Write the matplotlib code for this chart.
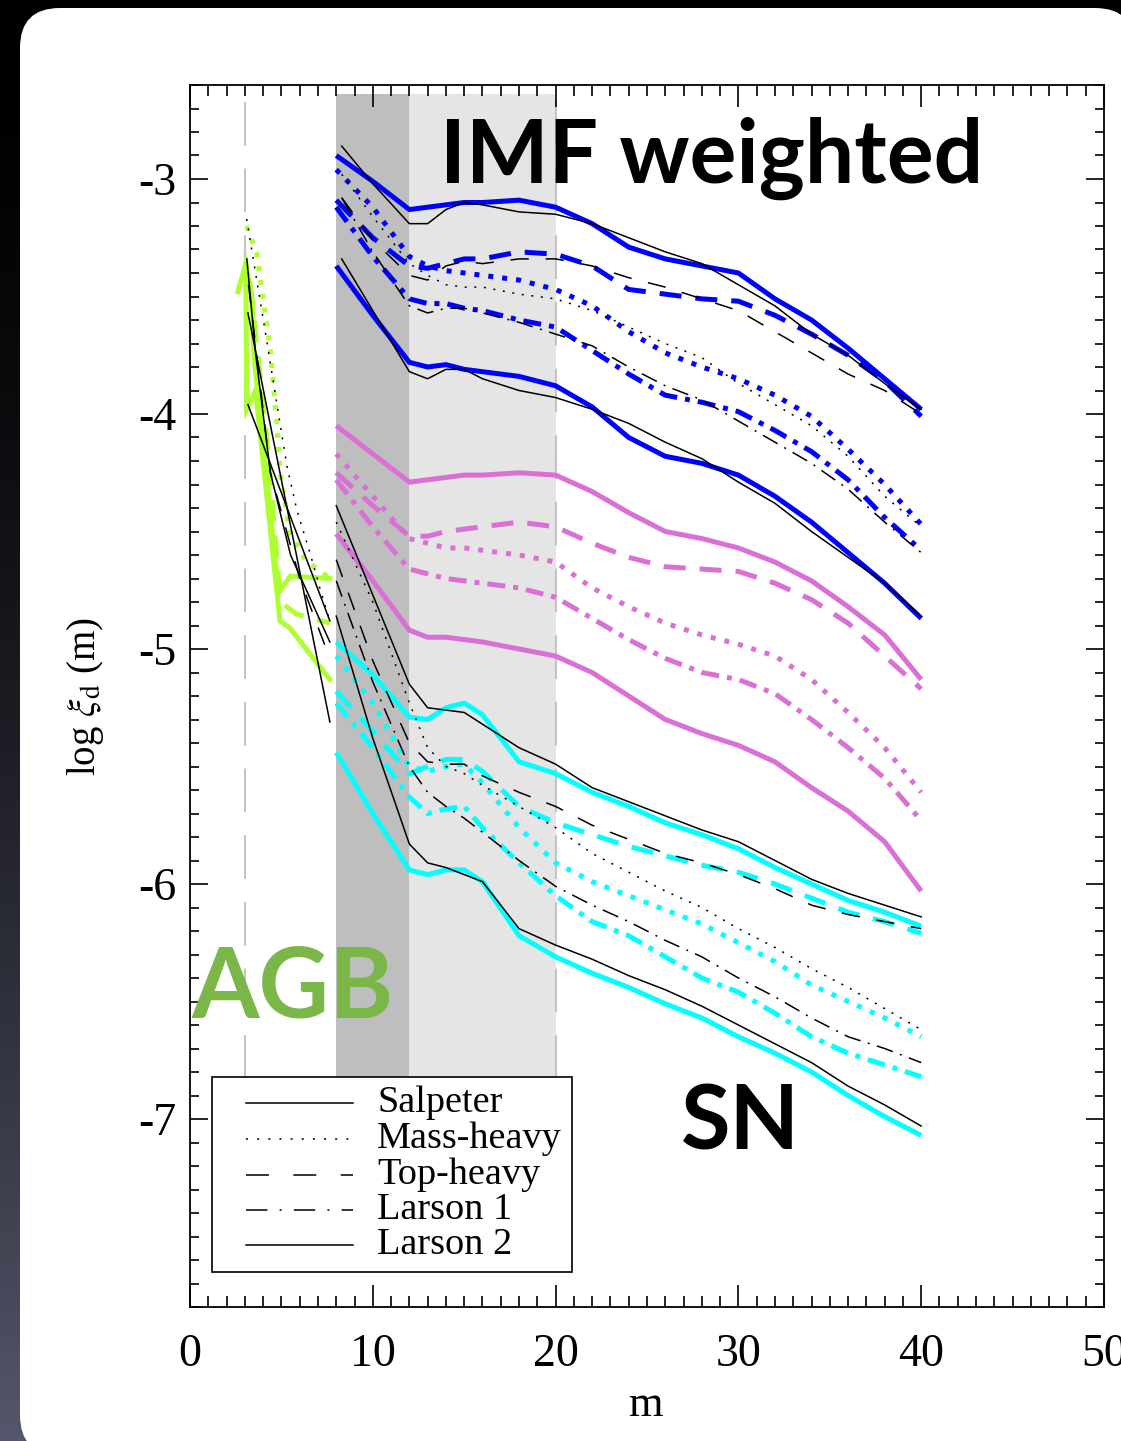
import numpy as np
import matplotlib
matplotlib.use("Agg")
import matplotlib.pyplot as plt
from matplotlib.patches import FancyBboxPatch, Rectangle

plt.rcParams['font.family'] = ['Liberation Serif', 'DejaVu Serif']
plt.rcParams['mathtext.fontset'] = 'stix'
plt.rcParams['axes.unicode_minus'] = False

# ---------------- data ----------------
X = [8, 10, 12, 13, 14, 15, 16, 18, 20, 22, 24, 26, 28, 30, 32, 34, 36, 38, 40]
XK = [8.3, 10, 12, 13, 14, 15, 16, 18, 20, 22, 24, 26, 28, 30, 32, 34, 36, 38, 40]

blue_salpeter = [-2.90, -3.01, -3.13, -3.12, -3.11, -3.10, -3.10, -3.09, -3.12, -3.19, -3.29, -3.34, -3.37, -3.40, -3.51, -3.60, -3.72, -3.85, -3.98]
blue_massheavy = [-2.96, -3.12, -3.33, -3.37, -3.39, -3.40, -3.41, -3.43, -3.47, -3.54, -3.65, -3.74, -3.80, -3.85, -3.92, -4.01, -4.15, -4.30, -4.47]
blue_topheavy = [-3.09, -3.25, -3.37, -3.38, -3.36, -3.34, -3.34, -3.31, -3.32, -3.37, -3.47, -3.49, -3.51, -3.52, -3.58, -3.66, -3.75, -3.86, -4.01]
blue_larson1 = [-3.12, -3.33, -3.51, -3.53, -3.53, -3.55, -3.56, -3.60, -3.63, -3.73, -3.83, -3.92, -3.95, -3.99, -4.07, -4.16, -4.28, -4.44, -4.58]
blue_larson2 = [-3.37, -3.58, -3.78, -3.80, -3.79, -3.81, -3.82, -3.84, -3.88, -3.97, -4.10, -4.18, -4.21, -4.26, -4.35, -4.46, -4.59, -4.72, -4.87]

kblue_salpeter = [-2.86, -3.02, -3.19, -3.19, -3.13, -3.10, -3.11, -3.14, -3.15, -3.19, -3.25, -3.31, -3.36, -3.45, -3.54, -3.66, -3.75, -3.87, -3.98]
kblue_massheavy = [-2.98, -3.16, -3.36, -3.41, -3.45, -3.46, -3.46, -3.49, -3.51, -3.56, -3.63, -3.70, -3.76, -3.87, -3.96, -4.05, -4.18, -4.35, -4.48]
kblue_topheavy = [-3.08, -3.26, -3.41, -3.43, -3.37, -3.35, -3.36, -3.34, -3.34, -3.37, -3.42, -3.46, -3.51, -3.56, -3.65, -3.74, -3.83, -3.90, -4.00]
kblue_larson1 = [-3.08, -3.31, -3.54, -3.57, -3.55, -3.55, -3.57, -3.61, -3.66, -3.71, -3.80, -3.88, -3.94, -4.03, -4.12, -4.21, -4.32, -4.46, -4.59]
kblue_larson2 = [-3.34, -3.56, -3.82, -3.85, -3.81, -3.81, -3.85, -3.90, -3.93, -3.98, -4.04, -4.12, -4.19, -4.29, -4.38, -4.50, -4.61, -4.72, -4.86]

violet_salpeter = [-4.05, -4.17, -4.29, -4.28, -4.27, -4.26, -4.26, -4.25, -4.26, -4.33, -4.42, -4.50, -4.53, -4.57, -4.63, -4.71, -4.82, -4.94, -5.13]
violet_massheavy = [-4.17, -4.35, -4.53, -4.55, -4.57, -4.57, -4.58, -4.60, -4.63, -4.74, -4.82, -4.89, -4.94, -4.98, -5.03, -5.13, -5.27, -5.42, -5.61]
violet_topheavy = [-4.25, -4.39, -4.52, -4.52, -4.50, -4.49, -4.48, -4.46, -4.48, -4.55, -4.61, -4.65, -4.66, -4.67, -4.72, -4.79, -4.89, -5.03, -5.17]
violet_larson1 = [-4.28, -4.48, -4.66, -4.68, -4.70, -4.71, -4.72, -4.74, -4.78, -4.87, -4.96, -5.04, -5.10, -5.13, -5.19, -5.30, -5.42, -5.55, -5.73]
violet_larson2 = [-4.51, -4.71, -4.92, -4.95, -4.95, -4.96, -4.97, -5.00, -5.03, -5.10, -5.20, -5.30, -5.36, -5.41, -5.48, -5.59, -5.69, -5.82, -6.03]

cyan_salpeter = [-4.97, -5.11, -5.29, -5.30, -5.25, -5.23, -5.28, -5.48, -5.53, -5.61, -5.67, -5.74, -5.79, -5.85, -5.93, -6.00, -6.07, -6.12, -6.18]
cyan_massheavy = [-5.03, -5.23, -5.50, -5.52, -5.50, -5.49, -5.57, -5.76, -5.91, -5.99, -6.05, -6.11, -6.17, -6.25, -6.33, -6.43, -6.50, -6.57, -6.65]
cyan_topheavy = [-5.18, -5.35, -5.53, -5.50, -5.47, -5.47, -5.52, -5.67, -5.74, -5.79, -5.84, -5.88, -5.92, -5.95, -6.00, -6.06, -6.12, -6.16, -6.21]
cyan_larson1 = [-5.23, -5.42, -5.63, -5.70, -5.68, -5.67, -5.76, -5.91, -6.05, -6.16, -6.22, -6.31, -6.40, -6.46, -6.55, -6.65, -6.72, -6.77, -6.82]
cyan_larson2 = [-5.44, -5.70, -5.94, -5.96, -5.94, -5.94, -5.99, -6.22, -6.31, -6.38, -6.44, -6.51, -6.57, -6.65, -6.72, -6.80, -6.90, -6.99, -7.07]

kcyan_salpeter = [-4.39, -4.77, -5.15, -5.25, -5.26, -5.27, -5.32, -5.42, -5.49, -5.59, -5.65, -5.71, -5.77, -5.82, -5.90, -5.98, -6.04, -6.09, -6.14]
kcyan_massheavy = [-4.46, -4.80, -5.23, -5.42, -5.50, -5.53, -5.58, -5.67, -5.76, -5.87, -5.95, -6.03, -6.10, -6.19, -6.27, -6.36, -6.44, -6.53, -6.62]
kcyan_topheavy = [-4.62, -5.05, -5.40, -5.48, -5.49, -5.49, -5.54, -5.61, -5.67, -5.75, -5.81, -5.87, -5.91, -5.96, -6.02, -6.09, -6.13, -6.16, -6.19]
kcyan_larson1 = [-4.71, -5.14, -5.50, -5.61, -5.67, -5.72, -5.78, -5.90, -6.01, -6.09, -6.16, -6.24, -6.31, -6.40, -6.48, -6.57, -6.65, -6.70, -6.76]
kcyan_larson2 = [-4.86, -5.38, -5.83, -5.91, -5.93, -5.96, -5.99, -6.19, -6.26, -6.32, -6.39, -6.45, -6.52, -6.60, -6.68, -6.76, -6.86, -6.94, -7.03]

# AGB (green thick + black thin)
agb_g1_x = [2.62, 3.05, 3.39, 3.50, 4.85, 5.20, 5.50, 7.65]
agb_g1_y = [-3.48, -3.36, -3.50, -3.75, -4.76, -4.72, -4.69, -4.70]
agb_g2_x = [3.05, 3.11, 3.59, 4.92, 5.46, 7.65]
agb_g2_y = [-3.36, -3.98, -3.90, -4.88, -4.91, -5.13]
agb_gdash_x = [3.30, 4.20, 4.95, 5.80, 7.65]
agb_gdash_y = [-3.45, -4.10, -4.80, -4.85, -4.89]
agb_gdot_x = [3.10, 3.66, 4.00, 4.37, 4.75, 4.95, 5.46, 6.30, 7.65]
agb_gdot_y = [-3.20, -3.32, -3.51, -3.71, -4.04, -4.26, -4.50, -4.62, -4.70]

agb_kdot_x = [3.10, 4.20, 5.30, 5.85, 6.56, 7.10, 7.65]
agb_kdot_y = [-3.17, -3.69, -4.22, -4.41, -4.59, -4.74, -4.88]
agb_ks1_x = [3.17, 7.65]
agb_ks1_y = [-3.96, -4.88]
agb_ks2_x = [3.17, 7.65]
agb_ks2_y = [-3.57, -5.31]
agb_ks3_x = [3.11, 3.60, 4.40, 5.50, 7.65]
agb_ks3_y = [-3.34, -3.75, -4.25, -4.60, -4.97]
agb_kdash_x = [3.20, 4.40, 6.00, 7.65]
agb_kdash_y = [-3.45, -4.25, -4.70, -5.04]

legend_labels = ['Salpeter', 'Mass-heavy', 'Top-heavy', 'Larson 1', 'Larson 2']
xtick_vals = [0, 10, 20, 30, 40, 50]
ytick_vals = [-7, -6, -5, -4, -3]

# ---------------- figure ----------------
W, H = 1121, 1441
fig = plt.figure(figsize=(W / 100, H / 100), dpi=100)
fig.patch.set_facecolor('black')

bg = fig.add_axes([0, 0, 1, 1], zorder=-10)
bg.set_xlim(0, W)
bg.set_ylim(H, 0)
bg.axis('off')
t = np.linspace(0, 1, 300)[:, None]
c0 = np.array([0.0, 0.0, 0.0])
c1 = np.array([0.33, 0.34, 0.42])
img = c0 + (c1 - c0) * (t[..., None] ** 1.6)
img = np.repeat(img, 2, axis=1)
bg.imshow(img, extent=[0, W, H, 0], aspect='auto', interpolation='bilinear')
bg.add_patch(FancyBboxPatch((20, 8), 1115, 1447,
                            boxstyle='round,pad=0,rounding_size=40',
                            fc='white', ec='none'))

ax = fig.add_axes([190 / W, 1 - 1307 / H, 914 / W, 1222 / H])
ax.set_facecolor('none')
ax.set_xlim(0, 50)
ax.set_ylim(-7.8, -2.6)

# shaded regions and guide lines
ax.fill_between([8, 12], -6.83, -2.64, color='#BEBEBE', lw=0, zorder=0.5)
ax.fill_between([12, 20], -6.83, -2.64, color='#E5E5E5', lw=0, zorder=0.5)
for xv in (3, 20):
    ax.plot([xv, xv], [-6.83, -2.62], color='#C4C4C4', lw=1.5,
            ls=(0, (21, 11)), zorder=0.6)

BLUE, VIOLET, CYAN, GREEN = '#0000FF', '#DA70D6', '#00FFFF', '#ADFF2F'
thick, thin = 3.6, 1.1
sty_thick = {'S': '-', 'M': (0, (1, 1.8)), 'D': (0, (4.4, 2.8)), 'L': (0, (3.6, 1.6, 1, 1.6))}
sty_thin = {'S': '-', 'M': (0, (1.3, 5)), 'D': (0, (12, 11)), 'L': (0, (11, 5, 1.3, 5))}

groups = [
    (BLUE, X, [(blue_salpeter, 'S'), (blue_massheavy, 'M'), (blue_topheavy, 'D'),
               (blue_larson1, 'L'), (blue_larson2, 'S')]),
    (VIOLET, X, [(violet_salpeter, 'S'), (violet_massheavy, 'M'), (violet_topheavy, 'D'),
                 (violet_larson1, 'L'), (violet_larson2, 'S')]),
    (CYAN, X, [(cyan_salpeter, 'S'), (cyan_massheavy, 'M'), (cyan_topheavy, 'D'),
               (cyan_larson1, 'L'), (cyan_larson2, 'S')]),
]
for col, xs, series in groups:
    for ys, s in series:
        ax.plot(xs, ys, color=col, lw=thick, ls=sty_thick[s],
                solid_joinstyle='round', solid_capstyle='butt', zorder=2)

black_groups = [
    (XK, [(kblue_salpeter, 'S'), (kblue_massheavy, 'M'), (kblue_topheavy, 'D'),
          (kblue_larson1, 'L'), (kblue_larson2, 'S')]),
    (X, [(kcyan_salpeter, 'S'), (kcyan_massheavy, 'M'), (kcyan_topheavy, 'D'),
         (kcyan_larson1, 'L'), (kcyan_larson2, 'S')]),
]
for xs, series in black_groups:
    for ys, s in series:
        ax.plot(xs, ys, color='black', lw=thin, ls=sty_thin[s], zorder=3)

# AGB
ax.plot(agb_g1_x, agb_g1_y, color=GREEN, lw=thick, solid_joinstyle='miter', zorder=2)
ax.plot(agb_g2_x, agb_g2_y, color=GREEN, lw=thick, solid_joinstyle='miter', zorder=2)
ax.plot(agb_gdash_x, agb_gdash_y, color=GREEN, lw=thick, ls=sty_thick['D'], zorder=2)
ax.plot(agb_gdot_x, agb_gdot_y, color=GREEN, lw=thick, ls=sty_thick['M'], zorder=2)
ax.plot(agb_kdot_x, agb_kdot_y, color='black', lw=thin, ls=sty_thin['M'], zorder=3)
ax.plot(agb_ks1_x, agb_ks1_y, color='black', lw=thin, zorder=3)
ax.plot(agb_ks2_x, agb_ks2_y, color='black', lw=thin, zorder=3)
ax.plot(agb_ks3_x, agb_ks3_y, color='black', lw=thin, zorder=3)
ax.plot(agb_kdash_x, agb_kdash_y, color='black', lw=thin, ls=sty_thin['D'], zorder=3)

# ticks
ax.set_xticks(xtick_vals)
ax.set_xticklabels([str(v) for v in xtick_vals])
ax.set_xticks(np.arange(0, 51, 1), minor=True)
ax.set_yticks(ytick_vals)
ax.set_yticklabels([str(v) for v in ytick_vals])
ax.set_yticks(np.round(np.arange(-78, -25) / 10.0, 1), minor=True)
ax.tick_params(axis='x', which='major', direction='in', length=16, width=1.2,
               top=True, bottom=True, labelsize=33, pad=19)
ax.tick_params(axis='x', which='minor', direction='in', length=8, width=1.2,
               top=True, bottom=True)
ax.tick_params(axis='y', which='major', direction='in', length=13, width=1.2,
               left=True, right=True, labelsize=33, pad=10)
ax.tick_params(axis='y', which='minor', direction='in', length=6.5, width=1.2,
               left=True, right=True)
for sp in ax.spines.values():
    sp.set_linewidth(1.3)
    sp.set_zorder(7)

# legend (manual, IDL style)
def pxax(px, py):
    return ((px - 190) / 914.0, (1307 - py) / 1222.0)

bx0, by0 = pxax(212, 1272)
ax.add_patch(Rectangle((bx0, by0), 360 / 914.0, 195 / 1222.0, transform=ax.transAxes,
                       fc='white', ec='black', lw=1.2, zorder=5))
leg_styles = ['-', (0, (1.3, 6)), (0, (15, 16)), (0, (14, 8, 1.3, 8)), '-']
row_px = [1103, 1139, 1175, 1210, 1245]
for lab, ls, rp in zip(legend_labels, leg_styles, row_px):
    xa, ya = pxax(246, rp)
    xb, _ = pxax(353, rp)
    ax.plot([xa, xb], [ya, ya], transform=ax.transAxes, color='black', lw=1.1,
            ls=ls, zorder=6, clip_on=False)
    xt, yt = pxax(377, rp + 9)
    ax.text(xt, yt, lab, transform=ax.transAxes, fontsize=27.5, ha='left',
            va='baseline', zorder=6)

# axis labels
fig.text(85 / W, 1 - 697 / H, r'log $\xi_{\rm d}$ (m)', rotation=90,
         ha='center', va='center', fontsize=28)
fig.text(645 / W, 1 - 1405 / H, 'm', ha='center', va='center', fontsize=32)

# annotations
fig.text(712 / W, 1 - 183 / H, 'IMF weighted', family='Lato', weight='bold',
         fontsize=63, ha='center', va='baseline', color='black', zorder=10)
fig.text(740 / W, 1 - 1150 / H, 'SN', family='Lato', weight='bold',
         fontsize=65, ha='center', va='baseline', color='black', zorder=10)
fig.text(293 / W, 1 - 1017 / H, 'AGB', family='Lato', weight='bold',
         fontsize=70, ha='center', va='baseline', color='#7AB648', zorder=10)

fig.savefig('out.png', dpi=100)
